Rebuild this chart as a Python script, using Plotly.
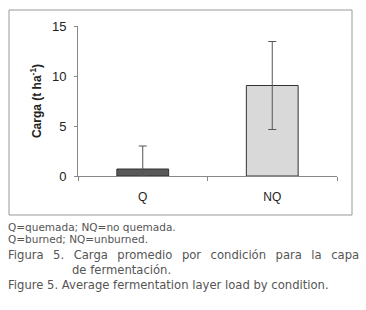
import plotly.graph_objects as go

categories = ["Q", "NQ"]
values = [0.7, 9.05]
err_plus = [2.3, 4.4]
err_minus = [0.7, 4.4]
bar_colors = ["#595959", "#d9d9d9"]
y_ticks = [0, 5, 10, 15]

captions_small = ["Q=quemada; NQ=no quemada.", "Q=burned; NQ=unburned."]
caption_es_1 = "Figura 5. Carga promedio por condición para la capa"
caption_es_2 = "de fermentación."
caption_en = "Figure 5. Average fermentation layer load by condition."

W, H = 366, 310
L, R, T, B = 78, 29, 26, 134
pw, ph = W - L - R, H - T - B

def px(x):
    return (x - L) / pw

def py(y):
    return (H - B - y) / ph

fig = go.Figure()
fig.add_trace(go.Bar(
    x=categories, y=values,
    marker=dict(color=bar_colors, line=dict(color="#333333", width=1)),
    error_y=dict(type="data", symmetric=False, array=err_plus, arrayminus=err_minus,
                 color="#555555", thickness=1, width=4),
    width=0.4,
))

fig.update_layout(
    width=W, height=H,
    margin=dict(l=L, r=R, t=T, b=B, autoexpand=False),
    paper_bgcolor="white", plot_bgcolor="white",
    showlegend=False,
    font=dict(family="Liberation Sans, Arial", size=12, color="#222222"),
    xaxis=dict(
        showline=True, linecolor="#888888", linewidth=1,
        ticks="outside", tickson="boundaries", ticklen=4, tickcolor="#888888",
        showgrid=False, tickfont=dict(size=12), ticklabelstandoff=10,
    ),
    yaxis=dict(
        range=[0, 15], tickvals=y_ticks,
        showline=True, linecolor="#888888", linewidth=1,
        ticks="outside", ticklen=3, tickcolor="#888888",
        showgrid=False, zeroline=False, tickfont=dict(size=13), ticklabelstandoff=5,
        title=dict(text="<b>Carga (t ha<sup>-1</sup>)</b>", font=dict(size=12), standoff=7),
    ),
    shapes=[dict(type="rect", xref="paper", yref="paper",
                 x0=px(9), x1=px(352), y0=py(215), y1=py(10),
                 line=dict(color="#999999", width=1), layer="above")],
)

cap_font_small = dict(family="DejaVu Sans", size=10.5, color="#555555")
cap_font_big = dict(family="DejaVu Sans", size=11.6, color="#555555")
justified_es_1 = caption_es_1.replace(" ", " \u2002")
anns = [
    (captions_small[0], 6, 227, cap_font_small),
    (captions_small[1], 6, 239, cap_font_small),
    (justified_es_1, 6, 255, cap_font_big),
    (caption_es_2, 70, 270, cap_font_big),
    (caption_en, 6, 285, cap_font_big),
]
for text, x, y, f in anns:
    fig.add_annotation(text=text, xref="paper", yref="paper", x=px(x), y=py(y),
                       xanchor="left", yanchor="middle", showarrow=False, font=f)

fig.write_html("out.html", config={"displayModeBar": False},
               post_script="document.body.style.margin='0';document.body.style.overflow='hidden';")
